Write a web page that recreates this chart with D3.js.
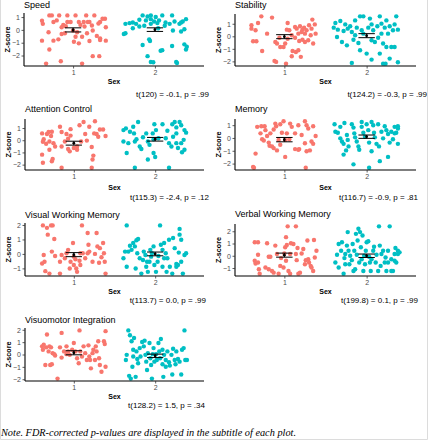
<!DOCTYPE html>
<html><head><meta charset="utf-8">
<script src="https://cdn.jsdelivr.net/npm/d3@7"></script>
<style>body{margin:0;background:#fff}svg{display:block}</style>
</head><body>
<script>
// ---------- DATA ----------
const titles = ["Speed","Stability","Attention Control","Memory","Visual Working Memory","Verbal Working Memory","Visuomotor Integration"];
const subtitles = ["t(120) = -0.1, p = .99","t(124.2) = -0.3, p = .99","t(115.3) = -2.4, p = .12","t(116.7) = -0.9, p = .81","t(113.7) = 0.0, p = .99","t(199.8) = 0.1, p = .99","t(128.2) = 1.5, p = .34"];
const categories = ["1","2"];
const xLabel = "Sex";
const yLabel = "Z-score";
const noteText = "Note. FDR-corrected p-values are displayed in the subtitle of each plot.";
const means1 = [0.00,-0.03,-0.24,-0.13,-0.05,0.05,0.14];
const means2 = [0.02,0.05,0.08,0.10,0.00,0.00,-0.11];
const se1 = [0.16,0.16,0.16,0.17,0.14,0.165,0.165];
const se2 = [0.14,0.16,0.15,0.13,0.13,0.14,0.14];
const yTicks = [[-2,-1,0,1],[-2,-1,0,1],[-2,-1,0,1],[-2,-1,0,1],[-1,0,1,2],[-1,0,1,2],[-2,-1,0,1,2]];

// [jitter, z-score]
const speed1 = [[-0.29,1.13],[-0.26,1.13],[-0.17,1.13],[-0.07,1.13],[0.03,1.13],[0.16,1.13],[0.26,1.13],[-0.38,0.71],[-0.24,0.61],[-0.20,0.74],[-0.07,0.61],[-0.03,0.61],[0.07,0.61],[0.13,0.61],[0.18,0.61],[0.20,0.61],[0.33,0.61],[0.39,0.87],[0.36,0.87],[-0.37,0.47],[-0.12,0.39],[-0.09,0.29],[-0.14,0.21],[0.09,0.39],[0.14,0.26],[0.23,0.34],[0.31,0.50],[0.40,0.21],[-0.30,-0.18],[-0.14,-0.32],[-0.10,-0.26],[0.00,-0.05],[0.05,-0.18],[0.17,-0.26],[0.24,-0.05],[0.03,-0.53],[0.29,-0.47],[0.33,-0.66],[0.11,-0.53],[-0.38,-0.84],[-0.24,-0.84],[-0.18,-0.74],[0.01,-0.92],[0.07,-1.05],[0.20,-0.87],[0.40,-0.84],[0.33,-0.79],[-0.29,-1.53],[0.24,-2.05],[0.32,-2.05],[-0.33,-2.63],[-0.15,-2.45],[0.11,-2.63]];
const speed2 = [[-0.15,1.13],[-0.09,1.05],[-0.05,1.13],[0.01,1.00],[0.09,1.13],[0.21,1.13],[-0.05,0.84],[-0.19,0.79],[-0.27,0.58],[-0.36,0.47],[-0.31,0.53],[-0.23,0.47],[-0.11,0.74],[-0.01,0.66],[0.05,0.74],[0.13,0.58],[0.18,0.47],[0.24,0.66],[0.32,0.58],[0.38,0.84],[0.30,0.47],[0.34,0.66],[-0.36,-0.26],[-0.38,-0.32],[-0.27,0.13],[-0.19,0.26],[-0.13,0.32],[-0.05,0.47],[0.03,0.53],[0.12,0.32],[0.22,-0.05],[0.32,-0.13],[0.36,0.05],[0.04,0.13],[-0.07,-0.74],[-0.06,-0.87],[-0.15,-1.18],[0.09,-1.58],[0.07,-1.63],[0.21,-1.26],[0.36,-1.13],[0.39,-1.32],[0.38,-1.53],[-0.09,-2.05],[-0.05,-2.50],[-0.02,-2.53],[0.26,-2.50],[0.27,-2.58]];
const stability1 = [[-0.28,1.59],[-0.15,1.49],[-0.40,0.88],[-0.40,0.61],[-0.35,0.48],[-0.32,1.06],[-0.21,0.21],[-0.38,-0.40],[-0.34,-0.40],[-0.27,-1.17],[-0.12,-1.96],[-0.10,-2.04],[0.02,-2.18],[-0.11,-0.45],[-0.06,-0.11],[0.04,1.06],[0.03,0.53],[0.06,0.48],[0.13,0.74],[0.09,0.08],[0.15,0.61],[0.19,0.80],[0.22,0.53],[0.21,0.34],[0.24,0.69],[0.27,0.48],[0.30,0.88],[0.33,0.61],[0.37,0.95],[0.34,1.33],[0.38,0.21],[0.32,0.08],[0.35,-0.58],[0.29,-0.32],[0.25,-0.45],[0.22,-0.27],[0.18,-0.37],[0.13,-0.11],[0.04,-0.19],[0.01,-0.58],[-0.05,-0.85],[-0.01,-0.85],[-0.09,-0.58],[0.10,-1.17],[0.14,-1.25],[0.17,-1.11],[0.20,-1.64],[0.09,-1.59],[0.25,0.21],[0.17,0.21]];
const stability2 = [[-0.38,1.06],[-0.32,1.22],[-0.26,0.95],[-0.20,0.80],[-0.14,1.27],[-0.08,1.59],[-0.04,1.59],[0.04,1.41],[0.06,0.95],[0.16,1.59],[0.24,1.27],[0.34,0.95],[0.36,1.59],[-0.40,0.69],[-0.35,0.53],[-0.28,0.42],[-0.23,0.61],[-0.18,0.34],[-0.12,0.69],[-0.06,0.48],[0.02,0.69],[0.08,0.48],[0.13,0.80],[0.18,1.01],[0.22,0.69],[0.28,0.80],[0.32,0.48],[0.38,0.53],[0.26,0.21],[-0.36,-0.05],[-0.30,-0.45],[-0.24,-0.72],[-0.16,-0.27],[-0.10,-0.53],[-0.08,-1.11],[0.00,-1.38],[0.06,-0.32],[0.10,-0.45],[0.14,-0.11],[0.20,-0.58],[0.16,-1.38],[0.24,-0.85],[0.30,-0.85],[0.34,-0.85],[-0.18,-2.12],[0.06,-1.86],[0.20,-2.18],[0.23,-2.18],[0.38,-2.07],[0.28,-1.78],[-0.14,0.08],[-0.04,0.21],[0.18,0.21]];
const attention1 = [[-0.39,0.56],[-0.37,0.08],[-0.38,-0.13],[-0.31,0.67],[-0.33,0.51],[-0.27,0.70],[-0.28,0.35],[-0.30,-0.11],[-0.34,-0.29],[-0.25,-0.24],[-0.23,-0.51],[-0.30,-0.78],[-0.39,-1.18],[-0.38,-1.85],[-0.26,-1.53],[-0.27,-1.72],[-0.17,1.10],[-0.15,0.67],[-0.09,0.51],[-0.04,0.91],[-0.04,0.38],[-0.07,0.13],[-0.11,-0.11],[-0.15,-0.51],[-0.07,-0.72],[-0.05,-0.91],[0.00,-0.64],[0.04,-0.51],[0.07,1.23],[0.12,1.50],[0.14,0.51],[0.16,-0.03],[0.19,1.10],[0.26,1.55],[0.25,0.56],[0.28,0.51],[0.32,0.88],[0.36,0.88],[0.39,0.35],[0.30,0.29],[0.22,-0.56],[0.24,-1.26],[0.23,-1.58],[-0.15,-2.25],[0.22,-2.25],[0.09,-0.11],[0.04,-0.78]];
const attention2 = [[-0.39,0.83],[-0.36,0.97],[-0.31,0.70],[-0.27,1.10],[-0.26,0.56],[-0.21,1.50],[-0.23,0.08],[-0.33,-0.24],[-0.39,-0.11],[-0.35,-1.05],[-0.25,-0.11],[-0.19,-0.51],[-0.17,-0.72],[-0.15,0.24],[-0.11,0.56],[-0.09,-0.11],[-0.07,-0.38],[-0.03,0.56],[-0.02,0.08],[-0.01,1.31],[0.01,0.83],[0.04,0.16],[0.00,-1.37],[-0.02,-1.05],[-0.09,-1.58],[0.09,1.31],[0.13,0.16],[0.15,0.78],[0.17,-0.24],[0.21,1.31],[0.22,0.29],[0.20,-0.51],[0.24,1.50],[0.26,1.05],[0.26,0.56],[0.26,-0.24],[0.28,-0.64],[0.30,1.50],[0.32,1.23],[0.33,-0.99],[0.35,0.03],[0.36,0.83],[0.38,0.62],[0.32,-0.24],[0.36,-0.78],[-0.25,-2.25],[0.17,-2.25]];
const memory1 = [[-0.33,0.87],[-0.28,0.92],[-0.24,0.92],[-0.23,0.61],[-0.29,0.36],[-0.27,-0.10],[-0.25,-0.20],[-0.21,0.15],[-0.19,-0.36],[-0.18,-0.61],[-0.15,-0.66],[-0.13,-0.79],[-0.17,0.36],[-0.13,0.66],[-0.11,1.12],[-0.10,0.92],[-0.05,1.07],[-0.01,1.30],[-0.03,0.41],[-0.07,-0.15],[-0.05,-0.53],[-0.09,-0.97],[0.01,-0.15],[0.03,0.36],[0.07,1.12],[0.09,0.87],[0.06,-0.10],[0.13,0.36],[0.17,0.99],[0.18,-0.87],[0.13,-0.87],[0.17,-0.92],[0.21,0.23],[0.25,1.30],[0.27,0.99],[0.29,0.74],[0.35,0.92],[0.38,0.15],[0.33,-0.28],[0.35,-0.46],[0.25,-0.41],[0.27,-1.04],[0.31,-0.97],[0.01,-1.48],[-0.35,-1.22],[-0.38,-2.26],[-0.37,-2.32],[0.26,-2.32]];
const memory2 = [[-0.39,1.07],[-0.38,0.48],[-0.35,0.41],[-0.32,0.87],[-0.32,-0.03],[-0.30,-0.28],[-0.28,-0.46],[-0.27,1.17],[-0.24,0.23],[-0.23,-0.15],[-0.22,-0.66],[-0.25,-0.97],[-0.28,-1.30],[-0.18,1.07],[-0.16,0.81],[-0.15,0.36],[-0.14,0.05],[-0.12,-0.28],[-0.10,-0.66],[-0.09,-0.92],[-0.06,1.25],[-0.06,0.87],[-0.04,0.41],[-0.02,0.10],[0.00,1.07],[0.02,0.61],[0.03,-0.36],[0.06,1.25],[0.08,0.99],[0.09,0.41],[0.10,0.05],[0.12,-0.46],[0.14,1.07],[0.15,-0.66],[0.16,-1.81],[0.18,0.48],[0.20,-0.03],[0.22,0.92],[0.24,0.61],[0.26,0.31],[0.28,-0.36],[0.30,0.48],[0.32,-0.10],[0.34,0.87],[0.36,0.41],[0.38,-0.46],[0.38,0.92],[0.34,0.36],[0.26,-1.48],[-0.16,-2.06],[0.03,-2.32],[0.06,-1.04],[0.38,0.74]];
const visual1 = [[-0.38,1.97],[-0.33,1.80],[-0.28,1.97],[-0.26,1.97],[-0.32,1.33],[-0.24,1.03],[-0.37,-0.07],[-0.39,-0.66],[-0.36,-0.54],[-0.35,-1.19],[-0.30,-1.36],[-0.27,0.16],[-0.23,-0.14],[-0.17,-1.36],[-0.17,-0.54],[-0.15,-0.07],[-0.11,-0.30],[-0.09,0.05],[-0.07,0.28],[-0.04,-0.54],[-0.01,0.75],[0.00,-0.77],[0.03,-1.01],[0.04,-1.24],[0.08,-0.77],[0.10,1.97],[0.11,0.05],[0.14,-0.30],[0.17,1.45],[0.18,0.63],[0.19,0.16],[0.23,-0.54],[0.26,0.00],[0.28,1.45],[0.29,0.52],[0.31,-0.61],[0.32,0.40],[0.34,-0.23],[0.36,0.75],[0.37,0.05],[0.38,-0.54],[0.39,-1.36],[0.00,-0.19],[0.07,-0.47],[-0.05,-1.01],[0.02,-0.37],[0.08,0.05],[0.17,0.05]];
const visual2 = [[-0.35,1.97],[-0.37,0.16],[-0.39,-0.30],[-0.35,-0.89],[-0.33,0.16],[-0.31,0.56],[-0.29,0.28],[-0.27,0.75],[-0.25,0.52],[-0.23,0.94],[-0.22,0.05],[-0.24,-1.01],[-0.21,1.03],[-0.19,-0.30],[-0.17,-1.36],[-0.15,-0.42],[-0.14,0.16],[-0.12,-0.07],[-0.11,-0.89],[-0.10,-0.54],[-0.09,-1.24],[-0.07,-0.54],[-0.06,0.28],[-0.05,-0.19],[-0.04,0.05],[-0.02,0.52],[-0.01,-0.77],[0.01,-1.24],[0.03,-0.54],[0.04,-0.14],[0.06,1.97],[0.07,0.63],[0.09,-0.89],[0.09,0.28],[0.11,0.75],[0.13,0.05],[0.14,-1.24],[0.15,-0.30],[0.17,0.98],[0.18,-0.89],[0.21,-1.36],[0.22,1.10],[0.24,0.40],[0.26,-0.70],[0.28,-0.77],[0.29,0.09],[0.30,1.73],[0.30,1.33],[0.32,0.98],[0.32,-0.54],[0.34,-1.36],[0.36,-0.07],[0.38,0.05],[0.26,-0.89],[0.11,-0.30]];
const verbal1 = [[-0.36,1.10],[-0.32,1.10],[-0.32,0.08],[-0.36,-0.41],[-0.35,-0.63],[-0.31,-1.10],[-0.30,-1.46],[-0.32,-0.55],[-0.21,1.02],[-0.19,-0.08],[-0.17,-0.08],[-0.23,-0.96],[-0.19,-1.10],[-0.13,-1.38],[-0.15,-1.24],[-0.11,0.83],[-0.09,0.14],[-0.07,-1.46],[-0.05,-0.83],[-0.04,-0.19],[-0.01,-0.96],[0.02,1.52],[0.01,0.69],[0.02,-0.41],[0.03,0.88],[0.05,-1.24],[0.07,-1.46],[0.08,1.02],[0.11,0.96],[0.14,0.14],[0.04,2.40],[0.15,-0.36],[0.16,0.63],[0.17,-1.46],[0.19,-1.38],[0.21,0.19],[0.23,0.55],[0.26,-0.36],[0.28,1.24],[0.29,-0.28],[0.30,-0.55],[0.32,-0.83],[0.33,-0.96],[0.35,-1.24],[0.36,1.29],[0.37,-0.14],[0.39,0.41],[0.14,2.40],[0.00,0.19],[0.07,0.14],[0.25,-0.69]];
const verbal2 = [[-0.38,-0.55],[-0.36,0.08],[-0.34,0.96],[-0.34,-0.96],[-0.31,0.41],[-0.30,1.10],[-0.28,-1.46],[-0.27,-0.19],[-0.26,0.14],[-0.24,0.83],[-0.23,1.93],[-0.22,0.41],[-0.21,-0.69],[-0.20,0.00],[-0.18,-0.36],[-0.17,0.96],[-0.16,-1.24],[-0.15,0.41],[-0.14,-1.10],[-0.13,1.79],[-0.12,0.08],[-0.11,1.24],[-0.10,2.20],[-0.09,-0.55],[-0.08,1.93],[-0.07,0.69],[-0.06,-0.28],[-0.05,1.65],[-0.04,-1.24],[-0.03,0.00],[-0.02,-0.69],[-0.01,0.41],[0.00,1.10],[0.02,1.18],[0.03,-0.08],[0.04,-0.55],[0.05,-1.24],[0.06,-0.28],[0.08,0.41],[0.09,0.74],[0.11,-0.55],[0.12,0.08],[0.14,-1.24],[0.15,2.40],[0.16,0.83],[0.17,-0.83],[0.18,0.14],[0.20,0.41],[0.22,-0.55],[0.23,-0.14],[0.24,-1.24],[0.26,-0.55],[0.26,0.41],[0.28,2.40],[0.30,-0.28],[0.30,-1.24],[0.32,-1.24],[0.34,-0.41],[0.34,0.14],[0.35,0.63],[0.36,-0.55],[0.38,0.14],[0.38,0.41],[0.40,0.28],[-0.26,-0.69]];
const visuomotor1 = [[-0.39,0.66],[-0.38,0.38],[-0.37,0.79],[-0.35,-0.85],[-0.34,0.58],[-0.33,1.62],[-0.31,0.25],[-0.30,0.66],[-0.29,-0.85],[-0.28,0.58],[-0.27,-0.79],[-0.26,0.11],[-0.24,0.03],[-0.23,-0.08],[-0.20,-1.95],[-0.17,0.58],[-0.15,1.75],[-0.15,-0.25],[-0.12,0.25],[-0.09,0.66],[-0.09,0.03],[-0.07,0.25],[-0.05,-0.03],[-0.02,0.38],[0.00,0.93],[0.02,0.25],[0.04,-0.30],[0.06,-0.71],[0.07,1.95],[0.08,0.25],[0.12,0.66],[0.14,0.11],[0.16,-0.44],[0.18,0.74],[0.19,-0.16],[0.20,-0.44],[0.21,-1.12],[0.23,0.11],[0.24,0.38],[0.26,-0.44],[0.27,0.66],[0.28,0.25],[0.30,1.07],[0.32,-0.85],[0.34,-1.40],[0.37,1.07],[0.38,0.85],[0.39,1.89],[0.39,-0.99],[0.31,-0.30],[0.10,-0.16]];
const visuomotor2 = [[-0.33,1.95],[-0.35,-0.03],[-0.36,-0.44],[-0.31,1.56],[-0.29,1.07],[-0.27,0.38],[-0.27,-0.16],[-0.26,1.34],[-0.24,-1.81],[-0.32,-1.73],[-0.30,-1.95],[-0.28,-0.99],[-0.23,0.25],[-0.22,-0.36],[-0.21,-0.71],[-0.19,0.52],[-0.18,-0.16],[-0.16,1.01],[-0.14,0.66],[-0.13,1.12],[-0.12,-0.03],[-0.11,-0.58],[-0.10,-1.26],[-0.09,0.11],[-0.07,0.93],[-0.06,-0.30],[-0.05,-0.85],[-0.04,-1.95],[-0.03,0.03],[-0.02,0.52],[-0.01,-0.58],[0.01,0.03],[0.02,-0.44],[0.04,0.93],[0.05,0.25],[0.06,-0.30],[0.07,1.26],[0.09,-0.79],[0.09,0.38],[0.10,-1.81],[0.11,-0.03],[0.13,-0.44],[0.15,0.25],[0.17,-0.63],[0.18,-0.90],[0.20,-0.03],[0.21,-1.62],[0.22,0.47],[0.24,-0.44],[0.25,-0.79],[0.26,0.25],[0.28,-0.36],[0.30,-0.58],[0.32,-1.62],[0.33,0.38],[0.35,0.52],[0.36,1.95],[0.37,-0.44],[0.39,-0.44],[0.13,-0.99]];

const group1 = [speed1, stability1, attention1, memory1, visual1, verbal1, visuomotor1];
const group2 = [speed2, stability2, attention2, memory2, visual2, verbal2, visuomotor2];
const colors = ["#F8766D", "#00BFC4"];

// ---------- LAYOUT ----------
const W = 428, H = 440;
const layout = [
  {x0:24, x1:204, top:13,  bottom:66,  titleY:8,   sexY:84,  subY:97,  subX:209, zx:7},
  {x0:235,x1:416, top:14,  bottom:66,  titleY:8,   sexY:84,  subY:97,  subX:427, zx:218},
  {x0:25, x1:204, top:119, bottom:170, titleY:112, sexY:190, subY:200, subX:209, zx:8},
  {x0:235,x1:416, top:119, bottom:170, titleY:112, sexY:190, subY:200, subX:418, zx:218},
  {x0:25, x1:204, top:223, bottom:276, titleY:218, sexY:294, subY:303, subX:206, zx:8},
  {x0:235,x1:416, top:224, bottom:276, titleY:217, sexY:294, subY:303, subX:418, zx:218},
  {x0:25, x1:204, top:328, bottom:381, titleY:323, sexY:399, subY:408, subX:205, zx:8}
];

const svg = d3.select("body").append("svg").attr("width", W).attr("height", H)
  .style("font-family", "'Liberation Sans', Arial, sans-serif");
svg.append("rect").attr("width", W).attr("height", H).attr("fill", "#fff");

titles.forEach((title, i) => {
  const L = layout[i];
  const all = group1[i].concat(group2[i]).map(d => d[1]);
  const ext = d3.extent(all);
  const pad = (ext[1] - ext[0]) * 0.05;
  const y = d3.scaleLinear().domain([ext[0] - pad, ext[1] + pad]).range([L.bottom, L.top]);
  const x = d3.scaleLinear().domain([0.4, 2.6]).range([L.x0, L.x1]);
  const g = svg.append("g");

  // points
  [group1[i], group2[i]].forEach((pts, k) => {
    g.append("g").selectAll("circle").data(pts).join("circle")
      .attr("cx", d => x(k + 1 + d[0]))
      .attr("cy", d => y(d[1]))
      .attr("r", 2.2)
      .attr("fill", colors[k]);
  });

  // error bars
  const stats = [[means1[i], se1[i]], [means2[i], se2[i]]];
  stats.forEach(([m, s], k) => {
    const cx = x(k + 1), hw = x(1.1) - x(1);
    const eb = g.append("g").attr("stroke", "#000").attr("stroke-width", 1);
    eb.append("line").attr("x1", cx - hw).attr("x2", cx + hw).attr("y1", y(m + s)).attr("y2", y(m + s));
    eb.append("line").attr("x1", cx - hw).attr("x2", cx + hw).attr("y1", y(m - s)).attr("y2", y(m - s));
    eb.append("line").attr("x1", cx).attr("x2", cx).attr("y1", y(m + s)).attr("y2", y(m - s));
    g.append("circle").attr("cx", cx).attr("cy", y(m)).attr("r", 1.4).attr("fill", "#000");
  });

  // axes
  const yAxis = d3.axisLeft(y).tickValues(yTicks[i]).tickSize(2.5).tickPadding(1.5).tickFormat(d3.format("d"));
  const xAxis = d3.axisBottom(x).tickValues([1, 2]).tickSize(2.5).tickPadding(1.5).tickFormat(d => categories[d - 1]);
  const ya = g.append("g").attr("transform", `translate(${L.x0},0)`).call(yAxis);
  const xa = g.append("g").attr("transform", `translate(0,${L.bottom})`).call(xAxis);
  [ya, xa].forEach(a => {
    a.select(".domain").attr("stroke", "#000").attr("stroke-width", 1.1);
    a.selectAll(".tick line").attr("stroke", "#333").attr("stroke-width", 0.8);
    a.selectAll(".tick text").attr("fill", "#4d4d4d").style("font-size", "7px")
      .style("font-family", "'Liberation Sans', Arial, sans-serif");
  });
  ya.select(".domain").attr("d", `M0,${L.top}V${L.bottom}`);
  xa.select(".domain").attr("d", `M${L.x0},0H${L.x1}`);

  // labels
  g.append("text").attr("x", L.x0).attr("y", L.titleY).attr("font-size", 9).attr("fill", "#000").text(title);
  g.append("text").attr("x", (L.x0 + L.x1) / 2).attr("y", L.sexY).attr("text-anchor", "middle")
    .attr("font-size", 7).attr("font-weight", "bold").attr("fill", "#000").text(xLabel);
  g.append("text").attr("transform", `translate(${L.zx + 2.5},${(L.top + L.bottom) / 2}) rotate(-90)`)
    .attr("text-anchor", "middle").attr("font-size", 7.2).attr("font-weight", "bold").attr("fill", "#000").text(yLabel);
  g.append("text").attr("x", L.subX).attr("y", L.subY).attr("text-anchor", "end")
    .attr("font-size", 8).attr("fill", "#000").text(subtitles[i]);
});

svg.append("text").attr("x", 1).attr("y", 436)
  .attr("font-family", "'Liberation Serif', 'DejaVu Serif', serif").attr("font-style", "italic")
  .attr("font-size", 10.5).attr("fill", "#000")
  .attr("textLength", 295).attr("lengthAdjust", "spacingAndGlyphs").text(noteText);

// light frame
svg.append("path").attr("d", `M0.5,0V${H - 0.5}H${W - 0.5}V0`).attr("fill", "none").attr("stroke", "#dcdcdc");
</script>
</body></html>
